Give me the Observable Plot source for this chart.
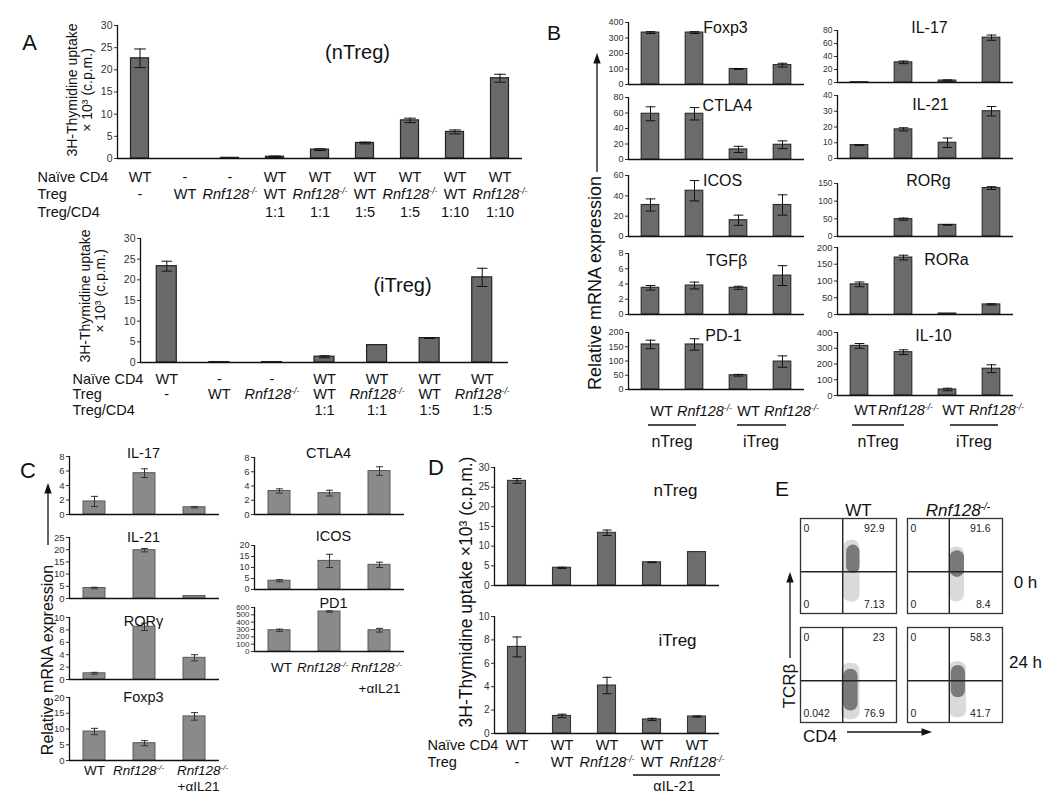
<!DOCTYPE html>
<html><head><meta charset="utf-8">
<script src="https://cdn.jsdelivr.net/npm/d3@7"></script>
<script src="https://cdn.jsdelivr.net/npm/@observablehq/plot@0.6"></script>
<style>
html,body{margin:0;padding:0;background:#fff;}
#fig{position:relative;width:1050px;height:798px;overflow:hidden;background:#fff;font-family:"Liberation Sans",Arial,sans-serif;color:#222;}
#fig svg{position:absolute;overflow:visible;}
</style></head><body><div id="fig"></div>
<script>
// ---------------- DATA ----------------
// Panel A (nTreg)
const aNaive1 = ["WT","-","-","WT","WT","WT","WT","WT","WT"];
const aTreg1  = ["-","WT","Rnf128-/-","WT","Rnf128-/-","WT","Rnf128-/-","WT","Rnf128-/-"];
const aRatio1 = ["","","","1:1","1:1","1:5","1:5","1:10","1:10"];
const aVals1  = [22.6, 0, 0.15, 0.4, 2.0, 3.5, 8.6, 6.0, 18.1];
const aErr1   = [2.1, 0, 0, 0.15, 0.2, 0.2, 0.5, 0.45, 0.9];
// Panel A (iTreg)
const aNaive2 = ["WT","-","-","WT","WT","WT","WT"];
const aTreg2  = ["-","WT","Rnf128-/-","WT","Rnf128-/-","WT","Rnf128-/-"];
const aRatio2 = ["","","","1:1","1:1","1:5","1:5"];
const aVals2  = [23.3, 0.1, 0.1, 1.4, 4.2, 5.9, 20.6];
const aErr2   = [1.2, 0, 0, 0.25, 0, 0.1, 2.2];
const aTicks  = [0,5,10,15,20,25,30];
// Panel B
const bGroups = ["WT","Rnf128-/-","WT","Rnf128-/-"];
const bFoxp3 = [335,335,100,125], bFoxp3Err = [6,6,3,12];
const bCtla4 = [59,59,13,19],     bCtla4Err = [9,8,4,5];
const bIcos  = [31,45,16,31],     bIcosErr  = [6,10,5,10];
const bTgfb  = [3.5,3.8,3.5,5.1], bTgfbErr  = [0.3,0.45,0.2,1.3];
const bPd1   = [158,158,50,98],   bPd1Err   = [15,20,3,20];
const bIl17  = [0.5,31,3,69],     bIl17Err  = [0,2,1,4];
const bIl21  = [8.5,18.5,10,30],  bIl21Err  = [0.3,1,3,3];
const bRorg  = [0,49,33,137],     bRorgErr  = [0,3,1,4];
const bRora  = [90,170,3,30],     bRoraErr  = [7,7,0,2];
const bIl10  = [315,275,38,170],  bIl10Err  = [15,15,8,25];
// Panel C
const cGroups = ["WT","Rnf128-/-","Rnf128-/-"];
const cGroups2 = ["","","+αIL21"];
const cIl17  = [1.8,5.7,1.0],  cIl17Err  = [0.7,0.6,0.1];
const cIl21  = [4.3,19.8,1.0], cIl21Err  = [0.3,0.7,0];
const cRorg  = [1.0,8.5,3.5],  cRorgErr  = [0.15,0.6,0.5];
const cFoxp3 = [9.2,5.5,14],   cFoxp3Err = [1.0,0.8,1.2];
const cCtla4 = [3.3,3.0,6.1],  cCtla4Err = [0.3,0.4,0.6];
const cIcos  = [4.0,13,11.2],  cIcosErr  = [0.5,3,1.2];
const cPd1   = [290,545,290],  cPd1Err   = [15,10,25];
// Panel D
const dNaive = ["WT","WT","WT","WT","WT"];
const dTreg  = ["-","WT","Rnf128-/-","WT","Rnf128-/-"];
const dNtreg = [26.6,4.5,13.4,5.9,8.5], dNtregErr = [0.6,0.15,0.7,0.1,0];
const dItreg = [7.4,1.5,4.1,1.2,1.45],  dItregErr = [0.85,0.15,0.7,0.1,0.05];
// Panel E (flow cytometry quadrants)
const flowGenotype = ["WT","Rnf128-/-","WT","Rnf128-/-"];
const flowTime = ["0 h","0 h","24 h","24 h"];
const flowUL = ["0","0","0","0"];
const flowUR = ["92.9","91.6","23","58.3"];
const flowLL = ["0","0","0.042","0"];
const flowLR = ["7.13","8.4","76.9","41.7"];
const flowGate = [44, 44]; // CD4 gate, TCRβ gate (axis units 0-100)
const cloudCore = [[48,62,42,72],[45,60,38,66],[45,60,12,56],[46,61,26,60]];
const cloudTail = [[45,62,12,77],[44,60,12,70],[43,62,3,62],[44,62,5,64]];

// ---------------- HELPERS ----------------
const FONT = '"Liberation Sans", Arial, Helvetica, sans-serif';
const fig = document.getElementById("fig");
const NS = "http://www.w3.org/2000/svg";

function fixRnf(root) {
  const w = document.createTreeWalker(root, NodeFilter.SHOW_TEXT);
  const list = [];
  while (w.nextNode()) if (w.currentNode.nodeValue.includes("Rnf128-/-")) list.push(w.currentNode);
  for (const node of list) {
    const parts = node.nodeValue.split("Rnf128-/-");
    const frag = document.createDocumentFragment();
    parts.forEach((p, k) => {
      if (p) frag.appendChild(document.createTextNode(p));
      if (k < parts.length - 1) {
        const a = document.createElementNS(NS, "tspan");
        a.setAttribute("font-style", "italic"); a.textContent = "Rnf128";
        const b = document.createElementNS(NS, "tspan");
        b.setAttribute("font-style", "italic"); b.setAttribute("font-size", "0.6em");
        b.setAttribute("dy", "-0.6em"); b.textContent = "-/-";
        frag.appendChild(a); frag.appendChild(b);
      }
    });
    node.parentNode.replaceChild(frag, node);
  }
}

function place(svg, left, top) {
  svg.style.position = "absolute";
  svg.style.left = left + "px";
  svg.style.top = top + "px";
  svg.style.overflow = "visible";
  svg.style.background = "transparent";
  svg.style.maxWidth = "none";
  fig.appendChild(svg);
  fixRnf(svg);
}

function barPlot(s) {
  const n = s.vals.length;
  const ml = 40, mr = 12, mt = 12, mb = 12;
  const W = s.x1 - s.x0, H = s.y0 - s.yTop;
  const step = W / n;
  const hw = s.hw ?? 0.2, cap = s.cap ?? 0.09;
  const data = s.vals.map((v, i) => ({i, v, e: s.errs ? s.errs[i] : 0}));
  const ed = data.filter(d => d.e > 0);
  const ec = s.errColor ?? "#111";
  const marks = [
    Plot.rect(data, {x1: d => d.i - hw, x2: d => d.i + hw, y1: d => 0, y2: "v",
      fill: s.fill, stroke: s.stroke, strokeWidth: s.sw ?? 1}),
    Plot.ruleX(ed, {x: "i", y1: d => d.v - d.e, y2: d => d.v + d.e, stroke: ec, strokeWidth: 1}),
    Plot.link(ed, {x1: d => d.i - cap, x2: d => d.i + cap, y1: d => d.v + d.e, y2: d => d.v + d.e, stroke: ec, strokeWidth: 1}),
    Plot.link(ed, {x1: d => d.i - cap, x2: d => d.i + cap, y1: d => d.v - d.e, y2: d => d.v - d.e, stroke: ec, strokeWidth: 1}),
    Plot.ruleX([-0.5], {stroke: "#111", strokeWidth: 1.3}),
    Plot.ruleY([0], {stroke: "#111", strokeWidth: 1.6})
  ];
  if (s.title) marks.push(Plot.text([s.title], {text: d => d, frameAnchor: "top-left", lineAnchor: "middle",
    dx: s.titleX - s.x0, dy: s.titleY - s.yTop, textAnchor: "middle", fontSize: s.titleSize, fill: "#111"}));
  for (const r of (s.rows || [])) {
    const rd = r.labels.map((c, i) => ({i, c})).filter(d => d.c);
    marks.push(Plot.text(rd, {x: d => d.i + (r.offs ? r.offs[d.i] : 0) / step, text: "c",
      frameAnchor: "bottom", lineAnchor: "middle",
      dy: r.y - s.y0, fontSize: r.size, fill: "#111"}));
    if (r.header) marks.push(Plot.text([r.header], {text: d => d, frameAnchor: "bottom-left", lineAnchor: "middle",
      dx: r.headerX - s.x0, dy: r.y - s.y0, textAnchor: "start", fontSize: r.size, fill: "#111"}));
  }
  const svg = Plot.plot({
    width: W + ml + mr, height: H + mt + mb,
    marginLeft: ml, marginRight: mr, marginTop: mt, marginBottom: mb,
    x: {domain: [-0.5, n - 0.5], axis: null},
    y: {domain: [0, s.yMax], ticks: s.ticks, tickSize: 3, tickPadding: 2, label: null},
    style: {fontFamily: FONT, fontSize: s.tickFont + "px", color: "#333", background: "transparent", overflow: "visible"},
    marks
  });
  place(svg, s.x0 - ml, s.yTop - mt);
}

// ---------------- PANEL A ----------------
const aFill = "#6a6a6a", aStroke = "#222";
barPlot({vals: aVals1, errs: aErr1, x0: 117, x1: 522, yTop: 25, y0: 158, yMax: 30, ticks: aTicks,
  fill: aFill, stroke: aStroke, sw: 1.2, hw: 0.2, cap: 0.13, tickFont: 10.5,
  title: "(nTreg)", titleX: 357, titleY: 52, titleSize: 20,
  rows: [
    {labels: aNaive1, y: 177, size: 14.5, header: "Naïve CD4", headerX: 37},
    {labels: aTreg1, y: 194, size: 14.5, header: "Treg", headerX: 37},
    {labels: aRatio1, y: 212, size: 14.5, header: "Treg/CD4", headerX: 37}
  ]});
barPlot({vals: aVals2, errs: aErr2, x0: 140, x1: 508, yTop: 238, y0: 362, yMax: 30, ticks: aTicks,
  fill: aFill, stroke: aStroke, sw: 1.2, hw: 0.19, cap: 0.1, tickFont: 10.5,
  title: "(iTreg)", titleX: 402, titleY: 285, titleSize: 20,
  rows: [
    {labels: aNaive2, y: 379, size: 14.5, header: "Naïve CD4", headerX: 72},
    {labels: aTreg2, y: 394, size: 14.5, header: "Treg", headerX: 72},
    {labels: aRatio2, y: 410, size: 14.5, header: "Treg/CD4", headerX: 72}
  ]});

// ---------------- PANEL B ----------------
const bFill = "#6b6b6b", bStroke = "#2a2a2a";
const bLeft = [
  {title: "Foxp3", vals: bFoxp3, errs: bFoxp3Err, yMax: 400, ticks: [0,100,200,300,400], yTop: 22, y0: 84, tx: 725, ty: 27, tf: 9},
  {title: "CTLA4", vals: bCtla4, errs: bCtla4Err, yMax: 80, ticks: [0,20,40,60,80], yTop: 97, y0: 159, tx: 727, ty: 105, tf: 9},
  {title: "ICOS", vals: bIcos, errs: bIcosErr, yMax: 60, ticks: [0,20,40,60], yTop: 175, y0: 236, tx: 722, ty: 180, tf: 9},
  {title: "TGFβ", vals: bTgfb, errs: bTgfbErr, yMax: 8, ticks: [0,2,4,6,8], yTop: 253, y0: 314, tx: 726, ty: 260, tf: 9},
  {title: "PD-1", vals: bPd1, errs: bPd1Err, yMax: 200, ticks: [0,50,100,150,200], yTop: 332, y0: 389, tx: 723, ty: 335, tf: 9}
];
const bRight = [
  {title: "IL-17", vals: bIl17, errs: bIl17Err, yMax: 80, ticks: [0,20,40,60,80], yTop: 30, y0: 82, tx: 929, ty: 27, tf: 8.5},
  {title: "IL-21", vals: bIl21, errs: bIl21Err, yMax: 40, ticks: [0,10,20,30,40], yTop: 95, y0: 158, tx: 930, ty: 104, tf: 8.5},
  {title: "RORg", vals: bRorg, errs: bRorgErr, yMax: 150, ticks: [0,50,100,150], yTop: 183, y0: 236, tx: 928, ty: 180, tf: 8.5},
  {title: "RORa", vals: bRora, errs: bRoraErr, yMax: 200, ticks: [0,50,100,150,200], yTop: 247, y0: 314, tx: 946, ty: 259, tf: 9.5},
  {title: "IL-10", vals: bIl10, errs: bIl10Err, yMax: 400, ticks: [0,100,200,300,400], yTop: 332, y0: 395, tx: 933, ty: 335, tf: 9.5}
];
bLeft.forEach((p, k) => barPlot({vals: p.vals, errs: p.errs, x0: 628, x1: 804, yTop: p.yTop, y0: p.y0,
  yMax: p.yMax, ticks: p.ticks, fill: bFill, stroke: bStroke, sw: 1.1, hw: 0.2, cap: 0.11, tickFont: p.tf,
  title: p.title, titleX: p.tx, titleY: p.ty, titleSize: 16,
  rows: k === 4 ? [{labels: bGroups, y: 411, size: 14.5, offs: [11, 10, 10, 9]}] : []}));
bRight.forEach((p, k) => barPlot({vals: p.vals, errs: p.errs, x0: 837, x1: 1013, yTop: p.yTop, y0: p.y0,
  yMax: p.yMax, ticks: p.ticks, fill: bFill, stroke: bStroke, sw: 1.1, hw: 0.2, cap: 0.11, tickFont: p.tf,
  title: p.title, titleX: p.tx, titleY: p.ty, titleSize: 16,
  rows: k === 4 ? [{labels: bGroups, y: 410, size: 14.5, offs: [6, 2, 6, 5]}] : []}));

// ---------------- PANEL C ----------------
const cFill = "#8a8a8a", cStroke = "#5a5a5a";
const cLeft = [
  {title: "IL-17", vals: cIl17, errs: cIl17Err, yMax: 8, ticks: [0,2,4,6,8], yTop: 456, y0: 514, ty: 453, tf: 9.5},
  {title: "IL-21", vals: cIl21, errs: cIl21Err, yMax: 25, ticks: [0,5,10,15,20,25], yTop: 537, y0: 598, ty: 537, tf: 9.5},
  {title: "RORγ", vals: cRorg, errs: cRorgErr, yMax: 10, ticks: [0,2,4,6,8,10], yTop: 617, y0: 679, ty: 621, tf: 9.5},
  {title: "Foxp3", vals: cFoxp3, errs: cFoxp3Err, yMax: 20, ticks: [0,5,10,15,20], yTop: 697, y0: 760, ty: 697, tf: 9.5}
];
const cRight = [
  {title: "CTLA4", vals: cCtla4, errs: cCtla4Err, yMax: 8, ticks: [0,2,4,6,8], yTop: 457, y0: 514, tx: 328, ty: 453, tf: 9.5},
  {title: "ICOS", vals: cIcos, errs: cIcosErr, yMax: 20, ticks: [0,5,10,15,20], yTop: 545, y0: 589, tx: 333, ty: 536, tf: 9},
  {title: "PD1", vals: cPd1, errs: cPd1Err, yMax: 600, ticks: [0,100,200,300,400,500,600], yTop: 607, y0: 651, tx: 333, ty: 603, tf: 8}
];
cLeft.forEach((p, k) => barPlot({vals: p.vals, errs: p.errs, x0: 69, x1: 219, yTop: p.yTop, y0: p.y0,
  yMax: p.yMax, ticks: p.ticks, fill: cFill, stroke: cStroke, sw: 1, hw: 0.22, cap: 0.07, tickFont: p.tf, errColor: "#333",
  title: p.title, titleX: 143, titleY: p.ty, titleSize: 14.5,
  rows: k === 3 ? [{labels: cGroups, y: 770, size: 13.5, offs: [0, -6, 8]}, {labels: cGroups2, y: 786, size: 13.5, offs: [0, 0, 4]}] : []}));
cRight.forEach((p, k) => barPlot({vals: p.vals, errs: p.errs, x0: 254, x1: 404, yTop: p.yTop, y0: p.y0,
  yMax: p.yMax, ticks: p.ticks, fill: cFill, stroke: cStroke, sw: 1, hw: 0.22, cap: 0.07, tickFont: p.tf, errColor: "#333",
  title: p.title, titleX: p.tx, titleY: p.ty, titleSize: 14.5,
  rows: k === 2 ? [{labels: cGroups, y: 667, size: 13.5, offs: [2, -7, -3]}, {labels: cGroups2, y: 688, size: 13.5}] : []}));

// ---------------- PANEL D ----------------
const dFill = "#6e6e6e", dStroke = "#333";
barPlot({vals: dNtreg, errs: dNtregErr, x0: 494, x1: 719, yTop: 467, y0: 585, yMax: 30, ticks: aTicks,
  fill: dFill, stroke: dStroke, sw: 1.1, hw: 0.2, cap: 0.1, tickFont: 10,
  title: "nTreg", titleX: 675, titleY: 490, titleSize: 17});
barPlot({vals: dItreg, errs: dItregErr, x0: 494, x1: 719, yTop: 616, y0: 733, yMax: 10, ticks: [0,2,4,6,8,10],
  fill: dFill, stroke: dStroke, sw: 1.1, hw: 0.2, cap: 0.1, tickFont: 10,
  title: "iTreg", titleX: 677, titleY: 640, titleSize: 17,
  rows: [
    {labels: dNaive, y: 745, size: 14.5, header: "Naïve CD4", headerX: 427},
    {labels: dTreg, y: 762, size: 14.5, header: "Treg", headerX: 427}
  ]});

// ---------------- PANEL E ----------------
const flowBox = {"WT": [800, 896], "Rnf128-/-": [907, 1002]};
const flowRow = {"0 h": [518, 613], "24 h": [627, 722]};
flowGenotype.forEach((g, k) => {
  const t = flowTime[k];
  const [fx0, fx1] = flowBox[g], [fy0, fy1] = flowRow[t];
  const m = 2;
  const rectOpts = {x1: d => d[0], x2: d => d[1], y1: d => d[2], y2: d => d[3]};
  const tOpts = {text: d => d, lineAnchor: "middle", fontSize: 10.5, fill: "#222"};
  const marks = [
    Plot.rect([cloudTail[k]], {...rectOpts, fill: "#b5b5b5", fillOpacity: 0.5, rx: 7}),
    Plot.rect([cloudCore[k]], {...rectOpts, fill: "#585858", fillOpacity: 0.75, rx: 7}),
    Plot.ruleX([flowGate[0]], {stroke: "#222", strokeWidth: 1.4}),
    Plot.ruleY([flowGate[1]], {stroke: "#222", strokeWidth: 1.4}),
    Plot.frame({stroke: "#333", strokeWidth: 1.3}),
    Plot.text([flowUL[k]], {...tOpts, frameAnchor: "top-left", dx: 3, dy: 10, textAnchor: "start"}),
    Plot.text([flowUR[k]], {...tOpts, frameAnchor: "top-right", dx: -12, dy: 10, textAnchor: "end"}),
    Plot.text([flowLL[k]], {...tOpts, frameAnchor: "bottom-left", dx: 3, dy: -9, textAnchor: "start"}),
    Plot.text([flowLR[k]], {...tOpts, frameAnchor: "bottom-right", dx: -12, dy: -9, textAnchor: "end"})
  ];
  if (t === "0 h") marks.push(Plot.text([g], {text: d => d, frameAnchor: "top", lineAnchor: "middle", dx: g === "WT" ? 10 : 3, dy: -8, fontSize: 17, fill: "#111"}));
  if (g === "Rnf128-/-") marks.push(Plot.text([t], {text: d => d, frameAnchor: "right", lineAnchor: "middle", dx: 23, dy: t === "0 h" ? 17 : -12, textAnchor: "middle", fontSize: 17, fill: "#111"}));
  const svg = Plot.plot({
    width: (fx1 - fx0) + 2 * m, height: (fy1 - fy0) + 2 * m,
    marginLeft: m, marginRight: m, marginTop: m, marginBottom: m,
    x: {domain: [0, 100], axis: null}, y: {domain: [0, 100], axis: null},
    style: {fontFamily: FONT, fontSize: "10px", color: "#222", background: "transparent", overflow: "visible"},
    marks
  });
  place(svg, fx0 - m, fy0 - m);
});

// ---------------- ANNOTATIONS ----------------
const F = FONT.replace(/"/g, "'");
function rot(x, y, s, size) {
  return `<text transform="translate(${x},${y}) rotate(-90)" font-size="${size}" text-anchor="middle" dominant-baseline="central">${s}</text>`;
}
function lbl(x, y, s, size, anchor = "middle") {
  return `<text x="${x}" y="${y}" font-size="${size}" text-anchor="${anchor}" dominant-baseline="central">${s}</text>`;
}
function ln(x1, y1, x2, y2, w = 1.3) {
  return `<line x1="${x1}" y1="${y1}" x2="${x2}" y2="${y2}" stroke="#111" stroke-width="${w}"/>`;
}
const ann = [
  lbl(29.5, 42, "A", 22), lbl(554, 32, "B", 21), lbl(28, 470, "C", 22), lbl(436, 467, "D", 22), lbl(782, 488, "E", 21),
  rot(72, 90, "3H-Thymidine uptake", 14), rot(86.5, 90, "× 10³ (c.p.m.)", 14),
  rot(85, 296, "3H-Thymidine uptake", 14), rot(99.5, 291, "× 10³ (c.p.m.)", 14),
  rot(595, 283, "Relative mRNA expression", 18),
  rot(47, 660, "Relative mRNA expression", 16),
  rot(466, 592, "3H-Thymidine uptake ×10³ (c.p.m.)", 17.5),
  rot(789, 686, "TCRβ", 17),
  lbl(803, 736, "CD4", 17, "start"),
  // panel B group lines and labels
  ln(648, 425, 696, 425), ln(737, 425, 786, 425), ln(852, 425, 904, 425), ln(950, 425, 998, 425),
  lbl(672, 441, "nTreg", 16), lbl(761, 441, "iTreg", 16), lbl(878, 441, "nTreg", 16), lbl(974, 441, "iTreg", 16),
  // panel D anti-IL-21 bracket
  ln(633, 775, 720, 775), lbl(674, 786, "αIL-21", 14.5),
  // arrows
  ln(597, 172, 597, 62), `<polygon points="597,53 593.3,63.5 600.7,63.5" fill="#111"/>`,
  ln(48, 545, 48, 492), `<polygon points="48,483 44.3,493.5 51.7,493.5" fill="#111"/>`,
  ln(790, 658, 790, 581), `<polygon points="790,572 786.3,582.5 793.7,582.5" fill="#111"/>`,
  ln(847, 732, 923, 732), `<polygon points="932,732 921.5,728.3 921.5,735.7" fill="#111"/>`
].join("");
const ov = document.createElementNS(NS, "svg");
ov.setAttribute("width", 1050); ov.setAttribute("height", 798);
ov.style.left = "0px"; ov.style.top = "0px"; ov.style.pointerEvents = "none";
ov.innerHTML = `<g font-family="${F}" fill="#111">${ann}</g>`;
fig.appendChild(ov);
</script></body></html>
